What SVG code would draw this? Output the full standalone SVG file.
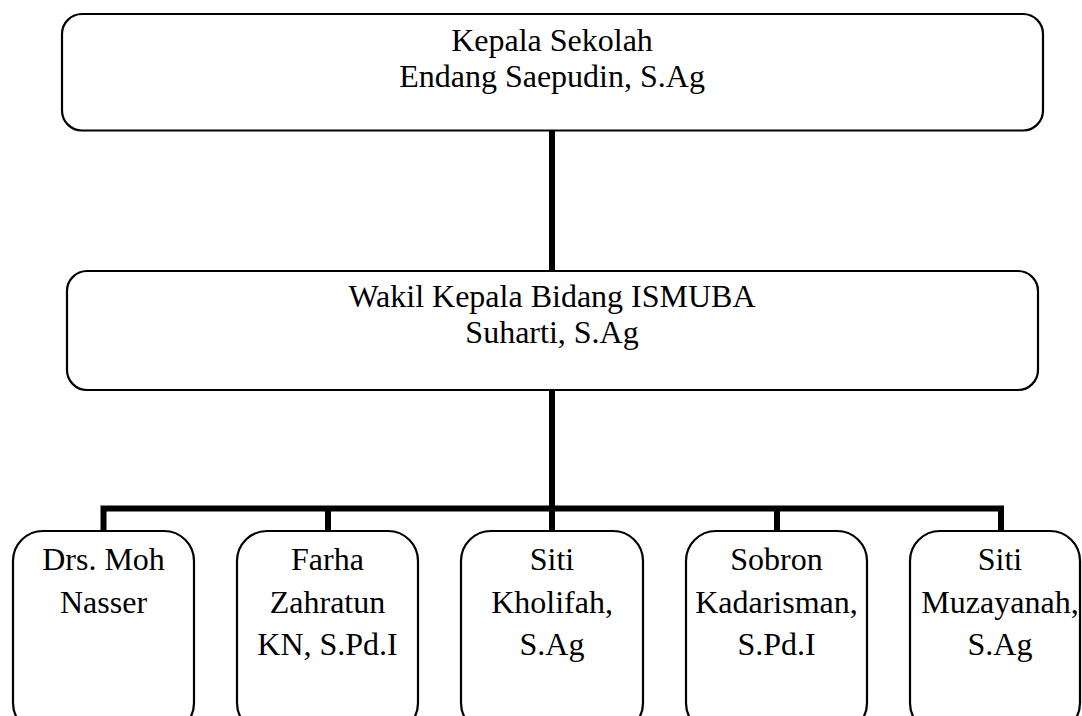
<svg xmlns="http://www.w3.org/2000/svg" width="1082" height="716" viewBox="0 0 1082 716">
<style>
.box{fill:#fff;stroke:#000;stroke-width:2.2}
.t{font-family:"Liberation Serif","Times New Roman",serif;font-size:32px;fill:#000;text-anchor:middle}
.c{stroke:#000;stroke-width:6;fill:none}
</style>
<rect width="1082" height="716" fill="#fff"/>
<g id="connectors">
<line class="c" x1="552" y1="130" x2="552" y2="271"/>
<line class="c" x1="552" y1="390" x2="552" y2="531"/>
<polyline class="c" points="103.5,531 103.5,508.5 1001,508.5 1001,531"/>
<line class="c" x1="328" y1="508.5" x2="328" y2="531"/>
<line class="c" x1="777" y1="508.5" x2="777" y2="531"/>
</g>
<g id="kepala">
<rect class="box" x="62" y="14" width="981" height="116.5" rx="20"/>
<text class="t" x="552" y="51">Kepala Sekolah</text>
<text class="t" x="552" y="87">Endang Saepudin, S.Ag</text>
</g>
<g id="wakil">
<rect class="box" x="67" y="271" width="971" height="119" rx="20"/>
<text class="t" x="552" y="307">Wakil Kepala Bidang ISMUBA</text>
<text class="t" x="552" y="343">Suharti, S.Ag</text>
</g>
<g id="n1">
<rect class="box" x="13" y="531" width="181" height="202" rx="30"/>
<text class="t" x="103.5" y="570">Drs. Moh</text>
<text class="t" x="103.5" y="612.5">Nasser</text>
</g>
<g id="n2">
<rect class="box" x="237" y="531" width="181" height="202" rx="30"/>
<text class="t" x="327.5" y="570">Farha</text>
<text class="t" x="327.5" y="612.5">Zahratun</text>
<text class="t" x="327.5" y="655">KN, S.Pd.I</text>
</g>
<g id="n3">
<rect class="box" x="461" y="531" width="182" height="202" rx="30"/>
<text class="t" x="552" y="570">Siti</text>
<text class="t" x="552" y="612.5">Kholifah,</text>
<text class="t" x="552" y="655">S.Ag</text>
</g>
<g id="n4">
<rect class="box" x="686" y="531" width="181" height="202" rx="30"/>
<text class="t" x="776.5" y="570">Sobron</text>
<text class="t" x="776.5" y="612.5">Kadarisman,</text>
<text class="t" x="776.5" y="655">S.Pd.I</text>
</g>
<g id="n5">
<rect class="box" x="910" y="531" width="170" height="202" rx="30"/>
<text class="t" x="1000" y="570">Siti</text>
<text class="t" x="1000" y="612.5">Muzayanah,</text>
<text class="t" x="1000" y="655">S.Ag</text>
</g>
</svg>
